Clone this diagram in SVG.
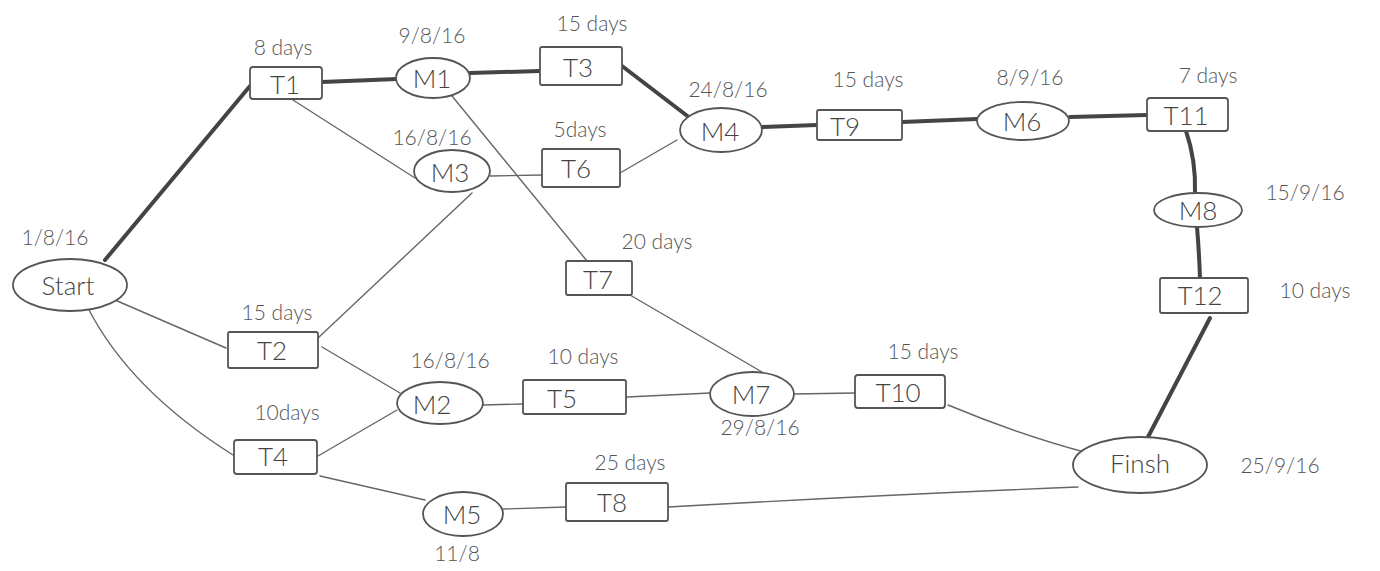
<svg xmlns="http://www.w3.org/2000/svg" width="1380" height="571" viewBox="0 0 1380 571">
<style>
.n{fill:#fff;stroke:#555;stroke-width:1.8}
.c{fill:none;stroke:#666;stroke-width:1.4;stroke-linecap:round}
.k{fill:none;stroke:#444;stroke-width:4;stroke-linecap:round}
.t{font-family:Lato,"Open Sans","Liberation Sans",sans-serif;font-weight:300;fill:#444;font-size:26px;text-anchor:middle;dominant-baseline:central}
.l{font-family:Lato,"Open Sans","Liberation Sans",sans-serif;font-weight:300;fill:#555;font-size:21px;text-anchor:middle;dominant-baseline:central}
</style>
<rect width="1380" height="571" fill="#fff"/>
<g id="connectors">
<path class="k" d="M105 260 L250 86"/>
<path class="k" d="M322 82 L397 79"/>
<path class="k" d="M470 73 L540 71"/>
<path class="k" d="M622 66 L690 118"/>
<path class="k" d="M763 127 L817 125"/>
<path class="k" d="M902 122 L977 119"/>
<path class="k" d="M1070 117 L1147 115"/>
<path class="k" d="M1186 131 Q1196 160 1195 193"/>
<path class="k" d="M1197 227 Q1199 250 1200 278"/>
<path class="k" d="M1210 318 L1148 437"/>
<path class="c" d="M293 100 L415 178"/>
<path class="c" d="M452 96 L587 261"/>
<path class="c" d="M490 176 L542 175"/>
<path class="c" d="M620 173 L677 140"/>
<path class="c" d="M318 338 L472 193"/>
<path class="c" d="M115 300 L226 348"/>
<path class="c" d="M88 308 Q130 390 233 455"/>
<path class="c" d="M322 347 L400 393"/>
<path class="c" d="M318 456 L397 410"/>
<path class="c" d="M320 476 L425 500"/>
<path class="c" d="M483 405 L523 404"/>
<path class="c" d="M627 397 L710 393"/>
<path class="c" d="M630 295 L762 372"/>
<path class="c" d="M793 394 L855 393"/>
<path class="c" d="M948 405 Q1020 435 1088 453"/>
<path class="c" d="M503 509 L566 507"/>
<path class="c" d="M668 507 Q880 495 1078 487"/>
</g>
<g id="start"><ellipse class="n" cx="70" cy="285" rx="57" ry="26"/><text class="t" x="68" y="285">Start</text><text class="l" x="55" y="236">1/8/16</text></g>
<g id="t1"><rect class="n" x="250" y="67" width="72" height="32" rx="3"/><text class="t" x="285" y="84">T1</text><text class="l" x="283" y="46">8 days</text></g>
<g id="m1"><ellipse class="n" cx="433" cy="78" rx="37" ry="20"/><text class="t" x="432" y="78">M1</text><text class="l" x="432" y="34">9/8/16</text></g>
<g id="t3"><rect class="n" x="540" y="47" width="82" height="38" rx="2"/><text class="t" x="578" y="67">T3</text><text class="l" x="592" y="22">15 days</text></g>
<g id="m3"><ellipse class="n" cx="452" cy="171" rx="38" ry="21"/><text class="t" x="450" y="172">M3</text><text class="l" x="432" y="136">16/8/16</text></g>
<g id="t6"><rect class="n" x="542" y="149" width="78" height="38" rx="2"/><text class="t" x="576" y="168">T6</text><text class="l" x="580" y="128">5days</text></g>
<g id="m4"><ellipse class="n" cx="721" cy="130" rx="41" ry="22"/><text class="t" x="720" y="131">M4</text><text class="l" x="728" y="88">24/8/16</text></g>
<g id="t9"><rect class="n" x="817" y="110" width="85" height="30" rx="2"/><text class="t" x="845" y="126">T9</text><text class="l" x="868" y="78">15 days</text></g>
<g id="m6"><ellipse class="n" cx="1023" cy="121" rx="46" ry="19"/><text class="t" x="1022" y="121">M6</text><text class="l" x="1030" y="76">8/9/16</text></g>
<g id="t11"><rect class="n" x="1147" y="98" width="81" height="33" rx="3"/><text class="t" x="1186" y="115">T11</text><text class="l" x="1208" y="74">7 days</text></g>
<g id="m8"><ellipse class="n" cx="1198" cy="210" rx="44" ry="17"/><text class="t" x="1198" y="210">M8</text><text class="l" x="1305" y="191">15/9/16</text></g>
<g id="t12"><rect class="n" x="1160" y="278" width="88" height="35" rx="2"/><text class="t" x="1200" y="295">T12</text><text class="l" x="1315" y="289">10 days</text></g>
<g id="finish"><ellipse class="n" cx="1140" cy="465" rx="67" ry="28"/><text class="t" x="1140" y="463">Finsh</text><text class="l" x="1280" y="464">25/9/16</text></g>
<g id="t10"><rect class="n" x="855" y="375" width="90" height="33" rx="3"/><text class="t" x="898" y="392">T10</text><text class="l" x="923" y="350">15 days</text></g>
<g id="m7"><ellipse class="n" cx="752" cy="394" rx="42" ry="22"/><text class="t" x="751" y="394">M7</text><text class="l" x="760" y="426">29/8/16</text></g>
<g id="t5"><rect class="n" x="523" y="380" width="103" height="34" rx="2"/><text class="t" x="562" y="398">T5</text><text class="l" x="583" y="355">10 days</text></g>
<g id="m2"><ellipse class="n" cx="440" cy="403" rx="43" ry="21"/><text class="t" x="432" y="404">M2</text><text class="l" x="450" y="359">16/8/16</text></g>
<g id="t7"><rect class="n" x="566" y="261" width="66" height="34" rx="2"/><text class="t" x="598" y="279">T7</text><text class="l" x="657" y="240">20 days</text></g>
<g id="t2"><rect class="n" x="228" y="332" width="90" height="36" rx="2"/><text class="t" x="272" y="350">T2</text><text class="l" x="277" y="311">15 days</text></g>
<g id="t4"><rect class="n" x="234" y="440" width="83" height="34" rx="3"/><text class="t" x="273" y="456">T4</text><text class="l" x="287" y="411">10days</text></g>
<g id="m5"><ellipse class="n" cx="463" cy="514" rx="40" ry="22"/><text class="t" x="462" y="514">M5</text><text class="l" x="457" y="552">11/8</text></g>
<g id="t8"><rect class="n" x="566" y="483" width="102" height="38" rx="2"/><text class="t" x="612" y="502">T8</text><text class="l" x="630" y="461">25 days</text></g>
</svg>
